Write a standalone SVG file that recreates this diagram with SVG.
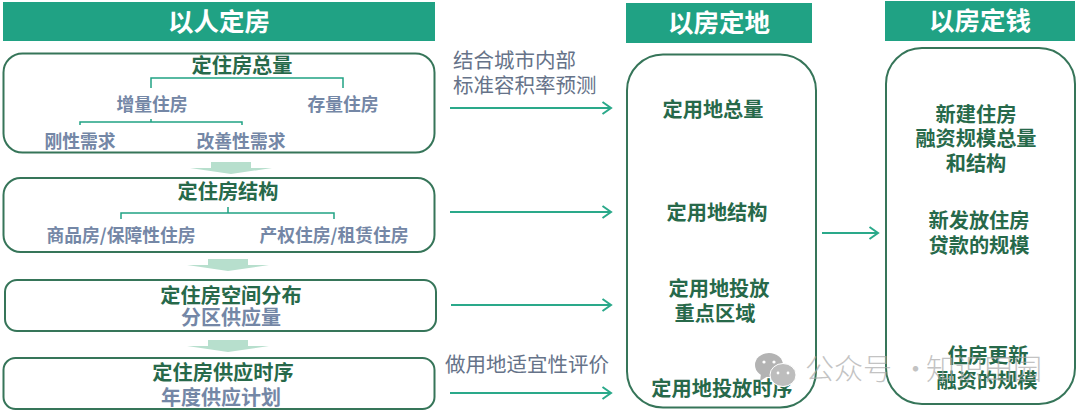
<svg xmlns="http://www.w3.org/2000/svg" width="1080" height="413" viewBox="0 0 1080 413">
<style>
text{font-family:"Noto Sans CJK SC","Liberation Sans",sans-serif;text-anchor:middle}
.hb{fill:#20a284}
.ht{fill:#fff;font-weight:700;font-size:25.500px}
.box{fill:#fff;stroke:#367559;stroke-width:2}
.g{fill:#27694a;font-weight:700;font-size:20.200px}
.b{fill:#7487a6;font-weight:700;font-size:17.800px}
.b2{fill:#7487a6;font-weight:700;font-size:20px}
.n{fill:#667389;font-size:20.500px;text-anchor:start}
.br{fill:none;stroke:#20a284;stroke-width:1.500}
.con{fill:none;stroke:#2aa98a;stroke-width:2}
.tri{fill:#b7dfcd}
.wm{fill:#aaa;font-size:29px;text-anchor:start;font-weight:300;opacity:.7}
</style>
<defs>
<marker id="ah" markerUnits="userSpaceOnUse" markerWidth="12" markerHeight="14" refX="10" refY="7" orient="auto"><path d="M1.500 1L10 7L1.500 13" fill="none" stroke="#2aa98a" stroke-width="2"/></marker>
<path id="dn" d="M211 0H251V6H272L231 12L190 6H211Z"/>
</defs>
<g id="head-people"><rect class="hb" x="3" y="2" width="432" height="39"/><text class="ht" x="219" y="31">以人定房</text></g>
<g id="head-land"><rect class="hb" x="626" y="3" width="186" height="40"/><text class="ht" x="719" y="32">以房定地</text></g>
<g id="head-money"><rect class="hb" x="885" y="1" width="190" height="40"/><text class="ht" x="980" y="30">以房定钱</text></g>
<g id="node-total">
<rect class="box" x="3.500" y="53.500" width="431" height="99" rx="19"/>
<text class="g" x="242" y="73">定住房总量</text>
<path class="br" d="M151 88V78H343V88M80 125V122H242V125M151 119V122"/>
<text class="b" x="152" y="111">增量住房</text><text class="b" x="343" y="111">存量住房</text>
<text class="b" x="80" y="148">刚性需求</text><text class="b" x="241" y="148">改善性需求</text>
</g>
<g id="node-structure">
<rect class="box" x="3.500" y="178" width="431" height="74" rx="17"/>
<text class="g" x="228" y="199">定住房结构</text>
<path class="br" d="M121 219V213H334V219M228 207V213"/>
<text class="b" x="121" y="242">商品房/保障性住房</text><text class="b" x="334" y="242">产权住房/租赁住房</text>
</g>
<g id="node-space">
<rect class="box" x="5" y="280" width="431" height="51" rx="12"/>
<text class="g" x="231" y="303">定住房空间分布</text><text class="b2" x="231" y="325">分区供应量</text>
</g>
<g id="node-time">
<rect class="box" x="3.500" y="358" width="431" height="51" rx="12"/>
<text class="g" x="223" y="380">定住房供应时序</text><text class="b2" x="221" y="405">年度供应计划</text>
</g>
<g id="node-land">
<rect class="box" x="627" y="54.500" width="189" height="353" rx="36"/>
<text class="g" x="713" y="117">定用地总量</text>
<text class="g" x="717" y="220">定用地结构</text>
<text class="g" x="719" y="296">定用地投放</text><text class="g" x="715" y="321">重点区域</text>
<text class="g" x="722" y="396">定用地投放时序</text>
</g>
<g id="node-money">
<rect class="box" x="886" y="48" width="189" height="356" rx="36"/>
<text class="g" x="976" y="122">新建住房</text><text class="g" x="976" y="146">融资规模总量</text><text class="g" x="976" y="171">和结构</text>
<text class="g" x="979" y="228">新发放住房</text><text class="g" x="979" y="253">贷款的规模</text>
<text class="g" x="988" y="363">住房更新</text><text class="g" x="987" y="388">融资的规模</text>
</g>
<g id="connectors">
<use href="#dn" class="tri" y="162"/>
<use href="#dn" class="tri" x="-3" y="259"/>
<use href="#dn" class="tri" x="-3" y="340"/>
<path class="con" marker-end="url(#ah)" d="M450 108H611"/>
<path class="con" marker-end="url(#ah)" d="M450 212H611"/>
<path class="con" marker-end="url(#ah)" d="M451 305H611"/>
<path class="con" marker-end="url(#ah)" d="M450 393H611"/>
<path class="con" marker-end="url(#ah)" d="M822 233H878"/>
</g>
<g id="labels">
<text class="n" x="453" y="68">结合城市内部</text>
<text class="n" x="453" y="93">标准容积率预测</text>
<text class="n" x="445" y="372">做用地适宜性评价</text>
</g>
<g id="watermark">
<ellipse cx="769" cy="365" rx="14" ry="12" fill="#b3b3b3"/>
<path d="M761 374L760 381L768 376Z" fill="#b3b3b3"/>
<ellipse cx="783" cy="375" rx="13" ry="11.500" fill="#bdbdbd" stroke="#fff"/>
<circle cx="764" cy="362" r="1.600" fill="#fff"/><circle cx="774" cy="362" r="1.600" fill="#fff"/>
<circle cx="778" cy="373" r="1.400" fill="#fff"/><circle cx="788" cy="373" r="1.400" fill="#fff"/>
<text class="wm" x="805" y="380">公众号</text>
<text class="wm" x="901" y="380">·</text>
<text class="wm" x="926" y="380">知识田园</text>
</g>
</svg>
